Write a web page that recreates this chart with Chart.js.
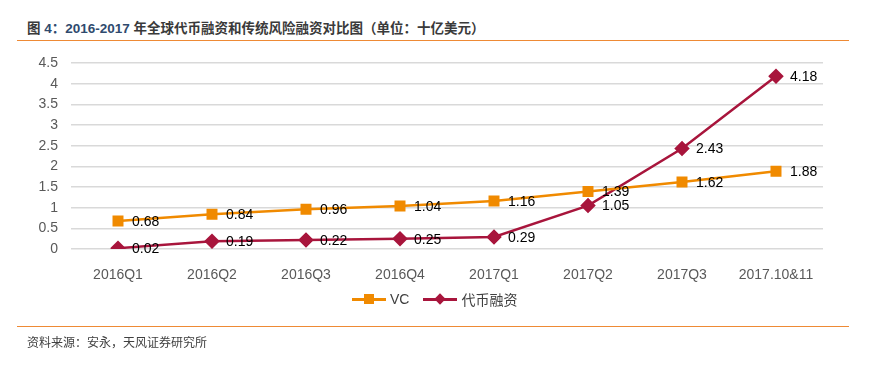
<!DOCTYPE html>
<html><head><meta charset="utf-8">
<script src="https://cdn.jsdelivr.net/npm/chart.js@4"></script>
<style>
html,body{margin:0;padding:0;background:#fff;width:875px;height:366px;overflow:hidden;font-family:"Liberation Sans",Arial,"Noto Sans CJK SC",sans-serif;}
#wrap{position:relative;width:875px;height:366px;}
#title{position:absolute;left:27px;top:17px;font-size:13.5px;font-weight:bold;color:#3a3a3a;font-family:"Liberation Sans",Arial,"Noto Sans CJK SC",sans-serif;white-space:nowrap;}
#title .n{color:#2f4a6e;}
.rule{position:absolute;left:17px;width:832px;height:0;border-top:1.5px solid #ee8a35;}
#source{position:absolute;left:27px;top:333px;font-size:12px;color:#404040;font-family:"Noto Sans CJK SC",sans-serif;}
#c{position:absolute;left:0;top:0;}
#legend{position:absolute;top:289px;left:352px;font-size:14px;color:#404040;display:flex;align-items:center;font-family:"Liberation Sans",Arial,"Noto Sans CJK SC",sans-serif;}
.li{display:flex;align-items:center;margin-right:14px;}
.sym{position:relative;width:34px;height:18px;margin-right:4px;}
.sym .ln{position:absolute;left:0;top:8px;width:34px;height:2.5px;}
.sym .mk{position:absolute;}
</style></head>
<body><div id="wrap">
<div id="title">图 <span class="n">4：2016-2017</span> 年全球代币融资和传统风险融资对比图（单位：十亿美元）</div>
<div class="rule" style="top:40px"></div>
<canvas id="c" width="875" height="366"></canvas>
<div id="legend">
  <div class="li"><div class="sym"><div class="ln" style="background:#f08a00"></div><div class="mk" style="left:12px;top:4px;width:10px;height:10px;background:#f08a00"></div></div>VC</div>
  <div class="li"><div class="sym"><div class="ln" style="background:#a8153c"></div><div class="mk" style="left:13px;top:5px;width:8px;height:8px;background:#a8153c;transform:rotate(45deg)"></div></div>代币融资</div>
</div>
<div class="rule" style="top:326px"></div>
<div id="source">资料来源：安永，天风证券研究所</div>
</div>
<script>
const categories = ["2016Q1","2016Q2","2016Q3","2016Q4","2017Q1","2017Q2","2017Q3","2017.10&11"];
const vcValues = [0.68,0.84,0.96,1.04,1.16,1.39,1.62,1.88];
const tokenValues = [0.02,0.19,0.22,0.25,0.29,1.05,2.43,4.18];
const yTicks = [0,0.5,1,1.5,2,2.5,3,3.5,4,4.5];

const labelPlugin = {
  id:'labels',
  afterDatasetsDraw(chart){
    const ctx = chart.ctx;
    ctx.save();
    ctx.font = '14px "Liberation Sans", Arial, sans-serif';
    ctx.fillStyle = '#000';
    ctx.textBaseline = 'middle';
    ctx.textAlign = 'left';
    chart.data.datasets.forEach((ds,i)=>{
      const meta = chart.getDatasetMeta(i);
      meta.data.forEach((pt,j)=>{
        ctx.fillText(ds.data[j].toFixed(2), pt.x+14, pt.y+1);
      });
    });
    ctx.restore();
  }
};

new Chart(document.getElementById('c'),{
  type:'line',
  data:{labels:categories,datasets:[
    {label:'VC',data:vcValues,borderColor:'#f08a00',backgroundColor:'#f08a00',borderWidth:2.5,pointStyle:'rect',pointRadius:6,pointHoverRadius:6,tension:0},
    {label:'代币融资',data:tokenValues,borderColor:'#a8153c',backgroundColor:'#a8153c',borderWidth:2.5,pointStyle:'rectRot',pointRadius:6,pointHoverRadius:6,tension:0}
  ]},
  options:{
    responsive:false,animation:false,
    layout:{padding:{top:63,right:52,bottom:0,left:0}},
    plugins:{legend:{display:false},tooltip:{enabled:false},title:{display:false}},
    scales:{
      x:{offset:true,grid:{display:false},border:{display:false},
        ticks:{color:'#595959',font:{size:14,family:'"Liberation Sans", Arial, sans-serif'},padding:10,maxRotation:0,autoSkip:false},
        afterFit(s){s.height=117;}},
      y:{min:0,max:4.5,afterBuildTicks(s){s.ticks=yTicks.map(v=>({value:v}));},
        grid:{color:'#d9d9d9',lineWidth:1.5,drawTicks:false},border:{display:false},
        ticks:{color:'#595959',font:{size:14,family:'"Liberation Sans", Arial, sans-serif'},padding:13,callback:v=>String(v)},
        afterFit(s){s.width=71;}}
    }
  },
  plugins:[labelPlugin]
});
</script></body></html>
